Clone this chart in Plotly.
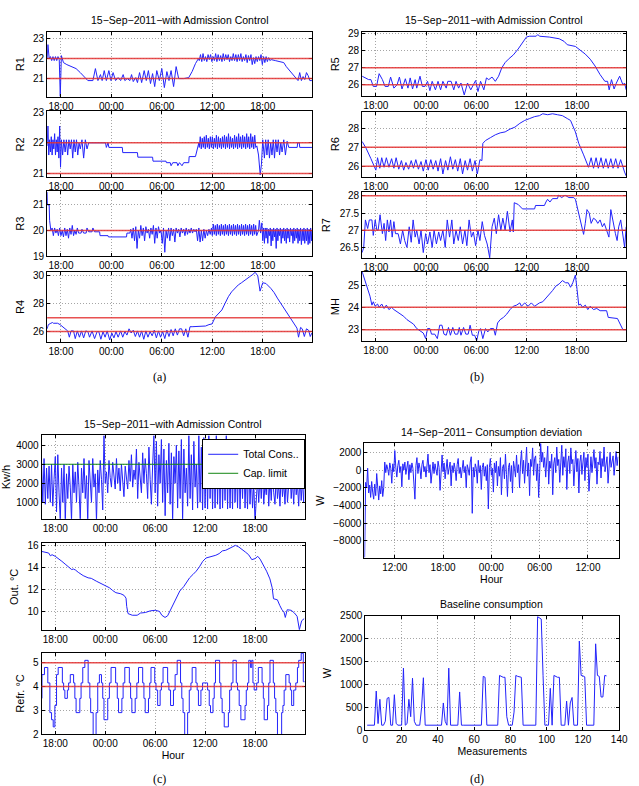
import pandas as pd
import plotly.graph_objects as go

W, H = 639, 786
BASE = pd.Timestamp("2011-09-14")

# ---------------- data: (hour since 14-Sep 00:00, value) ----------------
R1 = [(16.36,22.0),(16.45,22.7),(16.6,22.0),(16.75,22.1),(16.9,21.9),(17.05,22.1),(17.2,21.9),(17.35,22.1),(17.5,21.9),(17.65,22.1),(17.8,21.95),(17.92,20.1),(18.05,22.15),(18.3,21.8),(18.7,21.7),(19.2,21.6),(19.8,21.5),(20.3,21.3),(20.8,21.1),(21.2,20.9),(21.8,20.9),(22.1,21.5),(22.4,20.9),(22.7,21.2),(22.9,20.9),(23.15,21.4),(23.4,20.9),(23.7,21.4),(23.95,20.9),(24.2,21.3),(24.5,20.9),(24.8,21.05),(25.1,20.9),(25.4,21.2),(25.6,20.9),(25.9,21.0),(26.2,20.9),(26.4,21.2),(26.6,20.85),(26.9,21.05),(27.1,20.8),(27.35,21.3),(27.6,20.8),(27.9,21.4),(28.15,20.9),(28.4,21.4),(28.65,20.75),(28.9,21.25),(29.15,20.6),(29.4,21.4),(29.7,20.9),(30.0,21.5),(30.3,20.55),(30.6,21.35),(30.85,20.9),(31.1,21.4),(31.4,20.6),(31.7,21.6),(32.0,21.0),(32.6,21.0),(33.2,21.05),(33.6,21.35),(34.0,21.75),(34.35,22.0),
      (34.45,21.9),(34.6,22.2),(34.75,21.85),(34.9,22.25),(35.05,21.9),(35.2,22.1),(35.35,21.85),(35.5,22.2),(35.65,21.95),(35.8,22.2),(35.95,21.85),(36.1,22.1),(36.25,21.9),(36.4,22.25),(36.55,21.85),(36.7,22.2),(36.85,21.9),(37.0,22.15),(37.15,21.85),(37.3,22.25),(37.45,21.9),(37.6,22.2),(37.75,21.95),(37.9,22.2),(38.05,21.85),(38.2,22.1),(38.35,21.9),(38.5,22.25),(38.65,21.9),(38.8,22.2),(38.95,21.85),(39.1,22.2),(39.25,21.9),(39.4,22.25),(39.55,21.85),(39.7,22.1),(39.85,21.9),(40.0,22.2),(40.15,21.8),(40.3,22.15),(40.45,21.9),(40.6,22.2),(40.75,21.7),(40.9,22.05),(41.05,21.75),(41.2,22.1),(41.35,21.85),(41.5,22.1),(41.65,21.9),(41.8,22.2),(41.95,21.7),
      (42.1,22.1),(42.25,21.8),(42.4,22.1),(42.55,21.85),(42.7,22.05),(42.85,21.9),(43.0,21.95),(43.5,21.9),(44.0,21.85),(44.5,21.8),(44.8,21.6),(45.2,21.4),(45.6,21.2),(46.0,21.0),(46.2,20.9),(46.4,21.3),(46.6,20.9),(46.8,21.1),(47.0,20.95),(47.2,21.3),(47.4,21.15),(47.6,20.9),(47.85,20.9)]

R2 = [(16.36,21.9),(16.45,22.55),(16.55,21.6),(16.65,22.1),(16.75,21.7),(16.85,22.2),(16.95,21.6),(17.05,22.1),(17.15,21.8),(17.25,22.3),(17.35,21.6),(17.45,22.1),(17.55,21.7),(17.65,22.2),(17.75,21.5),(17.85,22.55),(17.95,21.2),(18.05,22.1),(18.2,21.6),(18.35,22.1),(18.5,21.7),(18.65,22.1),(18.8,21.6),(18.95,22.1),(19.1,21.8),(19.25,22.1),(19.4,21.5),(19.55,22.1),(19.7,21.7),(19.85,22.1),(20.0,21.6),(20.15,22.0),(20.3,21.8),(20.5,22.1),(20.7,21.5),(20.9,22.1),(21.1,21.8),(21.3,22.0),(23.3,22.0),(23.4,21.85),(23.6,22.0),(23.7,21.85),(25.3,21.85),(25.35,21.68),(27.1,21.68),(27.15,21.53),(28.9,21.53),(28.95,21.4),(30.5,21.4),(30.55,21.35),(31.0,21.35),(31.1,21.25),(31.3,21.35),(31.8,21.35),(31.9,21.25),(32.1,21.35),(32.4,21.25),(32.6,21.35),(33.2,21.35),(33.25,21.55),(34.0,21.55),(34.4,22.0),
      (34.45,21.85),(34.57,22.2),(34.69,21.8),(34.81,22.15),(34.93,21.85),(35.05,22.2),(35.17,21.8),(35.29,22.25),(35.41,21.85),(35.53,22.15),(35.65,21.8),(35.77,22.2),(35.89,21.85),(36.01,22.2),(36.13,21.8),(36.25,22.15),(36.37,21.85),(36.49,22.25),(36.61,21.8),(36.73,22.2),(36.85,21.85),(36.97,22.15),(37.09,21.8),(37.21,22.2),(37.33,21.85),(37.45,22.25),(37.57,21.8),(37.69,22.2),(37.81,21.85),(37.93,22.3),(38.05,21.8),(38.17,22.2),(38.29,21.85),(38.41,22.15),(38.53,21.8),(38.65,22.25),(38.77,21.85),(38.89,22.2),(39.01,21.8),(39.13,22.3),(39.25,21.85),(39.37,22.2),(39.49,21.8),(39.61,22.25),(39.73,21.85),(39.85,22.2),(39.97,21.8),(40.09,22.3),(40.21,21.85),(40.33,22.2),(40.45,21.8),(40.57,22.3),(40.69,21.85),(40.81,22.2),(40.93,21.8),(41.05,22.25),(41.17,21.85),
      (41.3,21.9),(41.5,21.6),(41.7,20.95),(41.85,21.3),(42.0,22.1),(42.2,21.5),(42.35,22.1),(42.5,21.6),(42.65,22.1),(42.8,21.5),(42.95,22.0),(43.1,21.6),(43.25,22.1),(43.4,21.5),(43.55,22.1),(43.7,21.7),(43.85,22.1),(44.0,21.6),(44.15,22.0),(44.3,21.7),(44.5,22.1),(44.7,21.6),(44.9,22.05),(45.1,21.85),(46.1,21.85),(46.15,22.0),(46.35,22.0),(46.4,21.85),(47.85,21.85)]

R3 = [(16.36,21.5),(16.4,21.0),(16.6,21.0),(16.65,20.4),(16.8,20.0),(16.95,20.1),(17.1,19.8),(17.25,20.1),(17.4,19.9),(17.55,20.05),(17.7,19.8),(17.85,20.1),(18.0,19.8),(18.15,20.0),(18.3,19.75),(18.45,20.1),(18.6,19.8),(18.75,20.05),(18.9,19.7),(19.05,20.1),(19.2,19.85),(19.35,20.2),(19.5,19.8),(19.65,20.0),(19.8,19.85),(19.95,20.1),(20.1,19.9),(20.4,19.9),(20.5,20.05),(20.7,19.9),(21.0,19.9),(21.1,20.1),(21.3,19.95),(21.7,19.95),(21.8,20.1),(22.0,19.95),(22.6,19.95),(22.65,19.8),(23.6,19.8),(23.65,19.75),(25.8,19.75),(25.85,19.9),(26.2,19.9),(26.3,20.05),(26.45,19.7),(26.6,20.1),(26.75,19.6),(26.9,20.15),(27.05,19.3),(27.2,20.0),(27.35,19.7),(27.5,20.2),(27.65,19.8),(27.8,20.1),(27.95,19.6),(28.1,20.15),(28.25,19.9),(28.4,20.05),(28.55,19.7),(28.7,20.1),(28.85,19.85),(29.0,20.2),(29.15,19.5),(29.3,20.1),(29.45,19.7),(29.6,20.15),(29.75,19.9),(29.9,20.0),(30.05,19.5),(30.2,20.1),(30.35,19.15),(30.5,20.0),(30.65,19.7),(30.8,20.1),(30.95,19.6),(31.1,20.1),(31.25,19.8),(31.4,20.05),(31.55,19.55),(31.7,20.1),(31.85,19.9),(32.0,20.05),(32.15,19.75),(32.3,20.1),(32.45,19.9),(32.6,20.05),(32.75,19.8),(32.9,20.1),(33.05,19.85),(33.2,20.05),(33.35,19.9),(33.5,20.1),(33.65,19.9),(33.8,20.05),(33.95,19.95),(34.1,20.05),(34.25,19.6),(34.4,20.1),(34.55,19.55),(34.7,20.0),(34.85,19.6),(35.0,20.05),(35.15,19.7),(35.3,20.0),(35.45,19.8),(35.6,20.05),(35.75,19.85),(35.9,20.1),
      (36.0,19.8),(36.12,20.25),(36.24,19.85),(36.36,20.2),(36.48,19.8),(36.6,20.25),(36.72,19.85),(36.84,20.2),(36.96,19.8),(37.08,20.25),(37.2,19.85),(37.32,20.2),(37.44,19.8),(37.56,20.25),(37.68,19.85),(37.8,20.2),(37.92,19.8),(38.04,20.25),(38.16,19.85),(38.28,20.2),(38.4,19.8),(38.52,20.25),(38.64,19.85),(38.76,20.2),(38.88,19.8),(39.0,20.25),(39.12,19.85),(39.24,20.2),(39.36,19.8),(39.48,20.25),(39.6,19.85),(39.72,20.2),(39.84,19.8),(39.96,20.25),(40.08,19.85),(40.2,20.2),(40.32,19.8),(40.44,20.25),(40.56,19.85),(40.68,20.2),(40.8,19.8),(40.92,20.25),(41.04,19.85),(41.16,20.2),(41.28,19.8),
      (41.5,20.0),(41.6,20.4),(41.75,19.9),(41.9,20.3),(42.0,19.6),(42.1,20.1),(42.2,19.5),(42.3,20.1),(42.4,19.7),(42.5,20.1),(42.6,19.5),(42.7,20.05),(42.8,19.8),(42.9,20.1),(43.0,19.4),(43.1,20.05),(43.2,19.6),(43.3,20.1),(43.4,19.75),(43.5,20.05),(43.6,19.3),(43.7,20.1),(43.8,19.6),(43.9,20.05),(44.0,19.8),(44.1,20.1),(44.2,19.5),(44.3,20.05),(44.4,19.7),(44.5,20.1),(44.6,19.6),(44.7,20.05),(44.8,19.5),(44.9,20.1),(45.0,19.7),(45.1,20.05),(45.2,19.55),(45.3,20.1),(45.4,19.8),(45.5,20.05),(45.6,19.5),(45.7,20.1),(45.8,19.6),(45.9,20.05),(46.0,19.7),(46.1,20.1),(46.2,19.5),(46.3,20.05),(46.4,19.6),(46.5,20.1),(46.6,19.45),(46.7,20.05),(46.8,19.6),(46.9,20.1),(47.0,19.5),(47.1,20.05),(47.2,19.6),(47.3,20.1),(47.4,19.45),(47.5,20.05),(47.6,19.5),(47.7,20.1),(47.8,19.6),(47.85,20.0)]

R4 = [(16.36,26.2),(16.5,26.5),(16.8,26.6),(17.0,26.65),(17.1,26.6),(17.6,26.6),(17.9,26.5),(18.3,26.3),(18.6,26.2),(18.8,26.05),(19.0,25.6),(19.2,26.05),(19.5,26.05),(19.7,25.5),(19.95,26.05),(20.2,25.6),(20.45,26.05),(20.7,25.55),(20.95,26.05),(21.2,26.0),(21.4,25.6),(21.7,26.05),(22.0,25.5),(22.3,26.0),(22.5,26.0),(22.75,25.45),(23.0,26.0),(23.25,25.6),(23.5,26.05),(23.8,25.4),(24.05,25.9),(24.3,25.55),(24.55,26.0),(24.8,25.6),(25.1,26.05),(25.35,25.6),(25.6,26.0),(25.85,25.75),(26.1,26.2),(26.35,25.9),(26.6,26.1),(26.85,25.65),(27.1,26.05),(27.35,25.6),(27.6,26.05),(27.85,25.45),(28.1,26.05),(28.35,25.6),(28.6,26.0),(28.85,25.7),(29.1,26.1),(29.35,25.55),(29.6,26.05),(29.85,25.6),(30.1,26.0),(30.35,25.5),(30.6,26.1),(30.85,25.65),(31.1,26.15),(31.35,25.7),(31.6,26.2),(31.85,25.75),(32.1,26.2),(32.35,26.2),(32.6,25.7),(32.85,26.2),(33.1,25.6),(33.35,26.35),(33.6,26.35),(34.4,26.4),(35.2,26.4),(35.6,26.5),(35.97,26.55),(36.36,27.05),(36.75,27.3),(37.14,27.55),(37.5,28.0),(37.91,28.5),(38.3,28.85),(38.69,29.1),(39.1,29.35),(39.47,29.5),(39.85,29.65),(40.24,29.8),(40.6,30.0),(40.83,30.1),(41.1,30.25),(41.41,30.0),(41.68,28.9),(42.0,29.5),(42.38,29.45),(42.96,29.1),(43.35,28.8),(43.74,28.4),(44.13,28.05),(44.52,27.7),(44.9,27.35),(45.29,27.0),(45.68,26.6),(46.07,26.25),(46.26,25.6),(46.5,26.3),(46.7,26.2),(46.95,25.65),(47.2,26.2),(47.45,26.1),(47.65,25.65),(47.85,25.9)]

R5 = [(16.36,26.5),(16.83,26.4),(17.14,26.3),(17.41,26.3),(17.69,25.9),(18.08,25.9),(18.39,26.65),(18.78,26.3),(19.1,25.9),(19.48,25.9),(19.76,26.45),(20.15,25.8),(20.54,26.0),(20.81,26.45),(21.12,25.75),(21.52,26.35),(21.83,25.8),(22.1,26.4),(22.38,25.75),(22.69,26.3),(22.88,25.8),(23.27,26.5),(23.55,25.9),(23.86,25.9),(24.17,26.2),(24.45,25.65),(24.72,26.2),(25.11,25.7),(25.42,26.2),(25.73,25.7),(26.0,26.2),(26.4,25.8),(26.59,26.2),(26.98,26.2),(27.3,25.7),(27.57,26.2),(27.88,25.8),(28.16,26.1),(28.55,25.4),(28.94,26.1),(29.33,25.7),(29.64,26.0),(29.91,26.25),(30.19,25.6),(30.5,26.2),(30.89,25.7),(31.2,26.4),(31.48,26.3),(31.87,26.45),(32.26,26.2),(32.65,26.5),(33.04,27.0),(33.43,27.3),(33.82,27.5),(34.41,27.75),(34.99,28.1),(35.38,28.4),(35.97,28.8),(36.36,28.85),(37.14,28.85),(37.34,28.95),(37.53,28.85),(38.7,28.8),(39.88,28.7),(40.46,28.55),(40.85,28.35),(41.82,28.25),(42.22,28.1),(43.0,27.8),(43.59,27.5),(44.17,27.1),(44.76,26.6),(45.34,26.2),(45.66,26.2),(45.85,25.7),(46.13,26.3),(46.44,25.75),(46.71,26.1),(47.1,26.5),(47.49,26.0),(47.69,26.1),(47.88,25.7)]

R6 = [(16.36,27.3),(16.83,26.95),(17.41,26.4),(17.8,26.0),(18.0,25.8),(18.2,26.45),(18.47,25.9),(18.7,26.45),(18.98,25.95),(19.25,26.45),(19.56,25.95),(19.88,26.4),(20.15,25.9),(20.42,26.45),(20.73,25.85),(21.05,26.3),(21.32,25.8),(21.59,26.2),(21.91,25.85),(22.22,26.3),(22.49,25.9),(22.77,26.35),(23.08,25.85),(23.39,26.25),(23.66,25.75),(23.98,26.35),(24.25,25.8),(24.56,26.35),(24.84,25.85),(25.15,26.3),(25.42,25.75),(25.73,26.4),(26.0,25.6),(26.32,26.3),(26.59,25.8),(26.9,26.5),(27.18,25.85),(27.49,26.35),(27.77,25.75),(28.08,26.4),(28.35,25.6),(28.66,26.3),(28.94,25.8),(29.25,26.4),(29.52,25.75),(29.84,26.3),(30.11,25.6),(30.42,26.35),(30.66,26.3),(30.77,27.2),(31.09,27.35),(31.67,27.5),(32.26,27.65),(32.84,27.75),(33.43,27.8),(34.02,27.95),(34.6,28.05),(35.19,28.25),(35.77,28.4),(36.36,28.5),(36.95,28.6),(37.53,28.65),(37.92,28.75),(38.51,28.7),(39.09,28.75),(39.68,28.7),(40.27,28.65),(40.85,28.5),(41.24,28.4),(41.82,27.8),(42.22,27.2),(42.8,26.6),(43.39,25.95),(43.7,26.45),(43.98,25.9),(44.29,26.45),(44.56,25.9),(44.88,26.45),(45.15,25.9),(45.46,26.4),(45.74,25.9),(46.05,26.4),(46.32,25.9),(46.63,26.4),(46.91,25.9),(47.22,26.35),(47.49,25.9),(47.69,25.7),(47.88,25.5)]

R7 = [(16.36,26.35),(16.55,26.5),(16.75,27.3),(17.02,27.05),(17.22,27.3),(17.53,27.3),(17.69,26.85),(17.92,27.3),(18.12,27.0),(18.27,27.0),(18.5,27.45),(18.78,26.9),(18.98,27.2),(19.17,26.7),(19.37,27.3),(19.56,26.95),(19.76,27.3),(19.95,26.8),(20.15,27.25),(20.34,26.9),(20.66,26.9),(20.93,26.6),(21.2,27.0),(21.44,26.7),(21.71,26.5),(21.98,27.1),(22.22,26.65),(22.45,27.3),(22.69,26.8),(22.88,27.0),(23.16,26.6),(23.39,27.0),(23.66,26.35),(23.94,26.9),(24.17,26.6),(24.45,26.95),(24.72,26.5),(24.95,27.0),(25.23,26.6),(25.5,26.95),(25.73,26.7),(26.0,27.0),(26.28,26.5),(26.52,27.3),(26.8,26.8),(27.07,27.3),(27.3,26.6),(27.57,27.0),(27.84,26.7),(28.08,27.1),(28.35,26.6),(28.63,27.0),(28.86,26.55),(29.13,27.3),(29.41,26.8),(29.64,26.95),(29.91,26.55),(30.19,27.0),(30.42,26.7),(30.7,27.25),(30.97,26.85),(31.29,26.6),(31.59,26.2),(31.87,27.1),(32.14,27.35),(32.38,26.9),(32.65,27.45),(32.92,27.0),(33.16,27.35),(33.43,27.0),(33.7,27.55),(34.02,26.95),(34.29,27.3),(34.41,26.95),(34.52,27.8),(34.99,27.75),(35.5,27.62),(36.95,27.62),(37.06,27.72),(38.12,27.72),(38.3,27.82),(38.5,27.9),(38.78,27.82),(39.09,27.92),(39.68,27.92),(39.8,28.02),(40.19,27.95),(40.58,28.02),(41.05,27.95),(41.63,27.95),(41.82,27.9),(42.22,27.5),(42.61,27.1),(42.8,26.88),(43.0,27.2),(43.2,27.6),(43.47,27.5),(43.7,27.2),(43.98,27.35),(44.26,27.3),(44.49,27.2),(44.77,27.3),(45.04,27.1),(45.27,27.2),(45.55,27.0),(45.82,26.8),(46.05,27.6),(46.33,27.2),(46.6,26.9),(46.8,26.7),(46.99,27.1),(47.23,27.3),(47.5,26.85),(47.7,26.5),(47.88,27.1)]

MH = [(16.36,25.6),(16.63,25.3),(17.02,24.9),(17.3,24.5),(17.53,24.1),(17.69,24.25),(17.92,24.05),(18.2,24.15),(18.39,24.0),(18.7,24.15),(18.98,23.95),(19.25,24.1),(19.56,23.9),(19.88,24.0),(20.15,23.9),(20.54,23.8),(20.93,23.7),(21.32,23.6),(21.71,23.45),(22.1,23.35),(22.49,23.25),(22.88,23.05),(23.27,22.95),(23.66,22.85),(23.94,22.6),(24.17,23.05),(24.45,23.05),(24.64,22.8),(25.03,22.8),(25.34,22.6),(25.62,23.2),(25.89,23.2),(26.13,22.8),(26.4,22.75),(26.67,23.1),(26.9,22.75),(27.18,23.1),(27.45,22.8),(27.77,22.8),(27.96,23.1),(28.16,22.75),(28.47,23.1),(28.74,22.8),(29.02,22.8),(29.25,23.2),(29.52,22.75),(29.8,22.75),(30.03,22.5),(30.3,22.95),(30.5,23.05),(30.77,22.6),(31.09,23.05),(31.36,22.9),(31.67,23.05),(32.06,23.05),(32.26,22.75),(32.53,23.3),(32.84,23.45),(33.23,23.55),(33.63,23.7),(34.02,23.9),(34.41,24.05),(34.8,24.1),(35.19,24.2),(35.38,24.05),(35.77,24.2),(36.17,24.05),(36.56,24.2),(36.95,24.05),(37.53,24.2),(37.92,24.25),(38.3,24.4),(38.7,24.55),(39.09,24.75),(39.48,24.95),(39.88,25.05),(40.27,25.2),(40.66,25.1),(40.97,25.1),(41.24,24.9),(41.51,25.1),(41.82,25.45),(42.02,24.8),(42.22,24.1),(42.41,24.15),(42.69,24.0),(43.0,24.1),(43.3,23.9),(43.59,24.05),(43.98,23.9),(44.37,23.95),(44.77,23.85),(45.55,23.85),(45.74,23.55),(46.84,23.5),(47.1,23.3),(47.49,23.0),(47.88,23.0)]

# comfort limits (red lines)
LIMITS = {"R1": [21, 22], "R2": [21, 22], "R3": [20], "R4": [26, 27],
          "R5": [26, 27], "R6": [26, 27], "R7": [27, 28], "MH": [23, 24], "Refr": [4, 5]}

# (c) total consumption, sampled every 0.15 h from 16.35 h
TOTAL_START, TOTAL_STEP = 16.35, 0.15
TOTAL_CONS = [3000,1000,3300,900,2800,1200,2900,1000,3000,800,2200,
              3400,500,3500,1500,0,2800,1000,3000,0,2500,1200,2900,1800,0,3000,1500,2600,1000,3100,1800,
              0,2800,1500,3300,1200,2400,0,3200,2000,1000,3300,1800,2500,0,2700,1500,3200,2200,600,4500,
              2000,2600,1500,3200,2300,1800,3100,2500,1700,3300,2000,2800,1600,3000,2200,1300,2900,2400,1700,3200,
              2100,3500,1800,2700,2200,3800,1200,3100,2400,1500,3600,2000,3300,2500,1200,3900,2200,900,3000,4500,
              1500,4200,800,3500,2000,4300,1000,3800,300,3200,1500,4100,900,3600,0,3400,2000,4000,700,3700,
              1200,4300,0,3800,1500,2800,800,4500,1200,3500,600,4200,1800,3000,700,4500,1000,3900,600,4400,
              700,3800,650,4500,1200,3600,650,4200,700,4500,900,3900,650,4300,700,3700,1100,4500,650,4000,
              700,3500,650,4100,1000,3300,700,3800,650,3000,1200,3600,700,2800,650,3400,900,2600,700,2000,
              0,1500,2200,1000,2500,1200,2700,900,2000,1400,2600,800,2300,1100,2700,1500,900,2400,1200,2000,
              800,2600,1300,2100,900,2500,1000,1900,2700,1200,2200,900,2600,1400,2000,800,2500,1100,2200,1000,2500]
CAP_LIMIT = 3000

OUT_TEMP = [(16.35,15.5),(16.82,15.45),(17.21,15.35),(17.41,15.1),(17.61,15.2),(18.0,15.05),(18.39,14.85),(18.79,14.6),(19.18,14.35),(19.57,14.1),(19.97,13.85),(20.17,13.9),(20.44,13.8),(20.76,13.6),(21.35,13.3),(21.94,13.1),(22.33,13.05),(22.92,12.8),(23.51,12.6),(24.1,12.35),(24.5,12.2),(24.89,11.95),(25.28,11.75),(25.87,11.65),(26.27,11.5),(26.5,11.25),(26.58,10.5),(26.74,9.85),(27.25,9.7),(27.84,9.7),(28.24,9.9),(28.83,9.95),(29.42,10.1),(30.01,10.15),(30.52,10.05),(30.8,9.7),(31.19,9.5),(31.5,9.65),(31.86,10.2),(32.17,10.7),(32.57,11.3),(32.96,11.9),(33.43,12.3),(33.83,12.8),(34.14,13.1),(34.54,13.4),(34.93,13.7),(35.32,14.1),(35.72,14.6),(36.11,14.9),(36.7,15.0),(37.29,15.15),(37.69,15.3),(38.08,15.55),(38.47,15.6),(38.87,15.75),(39.26,15.95),(39.65,16.05),(40.05,15.9),(40.44,15.7),(40.83,15.45),(41.23,15.2),(41.62,14.75),(42.02,14.85),(42.33,15.05),(42.61,14.8),(43.0,14.3),(43.39,13.7),(43.79,13.0),(44.06,12.2),(44.22,11.2),(44.69,11.1),(44.97,10.6),(45.24,10.2),(45.48,10.0),(45.64,9.5),(45.87,10.2),(46.35,10.15),(46.74,9.9),(47.06,9.6),(47.33,8.4),(47.61,9.2),(47.92,9.4)]

REFR = [(16.35,3.5),(16.4,4.5),(16.7,4.8),(17.1,4.15),(17.35,2.9),(17.55,2.6),(17.75,2.3),(17.95,3.2),(18.15,4.5),(18.35,4.8),(18.85,4.15),(19.0,3.85),(19.15,3.5),(19.45,3.85),(19.6,4.15),(19.8,4.5),(20.2,4.15),(20.35,3.5),(20.5,2.9),(20.95,3.5),(21.1,4.15),(21.3,4.8),(21.55,5.1),(21.95,4.15),(22.15,3.5),(22.25,2.9),(22.55,1.8),(22.9,2.9),(23.1,4.15),(23.3,4.5),(23.55,4.15),(23.7,3.5),(23.85,2.6),(24.3,3.5),(24.5,4.15),(24.7,4.8),(25.25,4.15),(25.45,3.5),(25.6,2.9),(26.0,3.5),(26.15,4.15),(26.35,4.8),(26.9,4.15),(27.05,3.5),(27.2,2.9),(27.6,3.5),(27.8,4.15),(28.0,4.8),(28.5,4.15),(28.65,3.5),(28.8,2.9),(29.2,3.5),(29.35,4.15),(29.5,4.8),(29.95,4.15),(30.1,3.85),(30.3,3.2),(30.6,3.85),(30.75,4.15),(30.95,4.8),(31.5,4.15),(31.65,3.85),(31.85,3.2),(32.2,3.85),(32.4,4.5),(32.65,5.1),(33.05,4.15),(33.2,3.5),(33.35,2.9),(33.55,1.8),(33.9,2.9),(34.1,3.85),(34.3,4.15),(34.45,4.8),(34.9,4.15),(35.05,3.85),(35.2,3.2),(35.5,3.85),(35.7,4.15),(36.3,3.85),(36.5,3.2),(36.65,2.9),(36.95,3.5),(37.1,4.15),(37.25,5.1),(37.75,4.15),(37.9,3.5),(38.05,2.9),(38.3,2.3),(38.8,2.9),(38.95,3.85),(39.15,4.15),(39.35,5.1),(39.75,4.15),(39.9,3.85),(40.1,3.2),(40.3,2.6),(40.8,3.2),(40.95,3.85),(41.1,4.15),(41.25,5.1),(41.45,4.8),(41.6,5.1),(41.75,4.15),(41.9,3.85),(42.2,4.15),(42.4,4.8),(42.85,4.15),(43.0,3.5),(43.1,2.6),(43.5,3.2),(43.65,4.15),(43.8,5.1),(44.2,4.15),(44.35,3.5),(44.5,2.9),(44.7,1.8),(45.2,2.9),(45.35,3.2),(45.5,3.85),(45.7,4.5),(46.1,4.15),(46.25,3.85),(46.4,3.2),(46.65,3.85),(46.9,4.15),(47.1,4.8),(47.25,5.1),(47.55,5.4),(47.8,4.2),(48.0,4.2)]

# (d) consumption deviation (W), every 0.125 h from 08:15 on 14-Sep
DEV_START, DEV_STEP = 8.25, 0.125
DEVIATION = [-9900,-1400,-2000,200,-2600,-1700,-3100,-1300,-2500,-3300,-1600,-2900,-400,-2200,-3400,-1800,-2700,-1200,-3000,-2000,900,-300,600,100,
             -600,800,200,-1500,700,-200,2200,300,-800,500,1100,-300,400,-1900,700,0,900,-500,300,1000,-1100,600,-300,800,
             200,-1200,-3300,500,1400,-400,800,200,-1000,600,1100,-200,400,-800,900,1800,-300,600,-1500,300,900,-400,700,0,
             -600,1000,300,-2300,500,1700,-200,800,-1000,400,1200,-500,200,900,-1800,500,-300,800,100,-1200,600,1300,-400,300,
             -900,500,1100,-300,400,-2000,600,100,-600,900,1500,-4900,300,-800,700,200,-1500,1100,-300,500,-2200,300,800,-700,
             400,-1200,600,-4400,300,1300,-600,200,-2500,800,-300,1000,-1800,400,-700,1400,-2800,200,600,-1000,1800,-500,-3000,300,
             800,-1300,500,-2600,1000,200,-800,1700,-300,600,-2000,900,2200,-400,1100,-1500,300,2600,-700,800,-2900,1200,400,2500,
             -600,1300,1600,-1200,700,-3100,-300,3000,900,2000,300,1400,-800,600,2700,-1600,1000,200,1800,-2800,700,1400,-300,2600,
             500,1200,-1400,800,2800,-600,1500,300,2400,-2200,900,1600,-400,2500,700,1200,-1800,600,2200,-200,1300,-2600,900,1700,
             -500,800,2000,-1200,1400,300,1800,-2400,700,1500,-300,1100,2300,200,1400,-1600,900,600,2100,-900,1300,400,2600,-200,
             800,1500,-1500,1100,2000,300,900,1600,-600,1200,2100,500,1500]

BASELINE = [115,115,115,115,115,860,150,680,115,115,200,700,720,115,115,780,150,115,115,115,
            1360,115,150,680,300,1140,200,115,115,115,500,1150,115,115,115,115,115,115,115,115,
            115,115,600,200,115,1360,115,115,115,115,115,840,115,115,115,115,115,115,115,115,
            115,115,115,115,1180,1160,115,115,115,115,115,115,115,1200,1180,1160,1160,300,115,115,
            115,400,1200,1180,1170,1160,115,115,115,115,115,115,115,115,2480,2450,2430,1200,115,115,
            115,920,115,1200,1170,1160,1160,115,115,115,640,115,600,720,115,115,115,1950,1200,1190,
            1170,115,115,115,115,115,1890,1200,1180,730,730,1200,1190]

Y_TICKS = {"R1": [21, 22, 23], "R2": [21, 22, 23], "R3": [19, 20, 21], "R4": [26, 28, 30],
           "R5": [26, 27, 28, 29], "R6": [26, 27, 28], "R7": [26.5, 27, 27.5, 28], "MH": [23, 24, 25],
           "Kw/h": [1000, 2000, 3000, 4000], "Out. °C": [10, 12, 14, 16], "Refr. °C": [2, 3, 4, 5],
           "W1": [-8000, -6000, -4000, -2000, 0, 2000], "W2": [0, 500, 1000, 1500, 2000, 2500]}
BASE_XTICKS = [0, 20, 40, 60, 80, 100, 120, 140]

# ---------------- helpers ----------------
def dt(hours):
    return [(BASE + pd.Timedelta(hours=float(h))).strftime("%Y-%m-%d %H:%M:%S") for h in hours]

def unzip(pairs):
    return dt([p[0] for p in pairs]), [p[1] for p in pairs]

BLUE = "rgb(35,35,250)"
RED = "rgba(228,50,50,0.85)"
GREEN = "rgb(20,135,20)"
FONT = "Liberation Sans, Arial, Helvetica, sans-serif"

AB = dt([16.36, 47.87])
CR = dt([16.35, 47.95])
DR = dt([8.22, 39.8])

total_t = [TOTAL_START + i * TOTAL_STEP for i in range(len(TOTAL_CONS))]
dev_t = [DEV_START + i * DEV_STEP for i in range(len(DEVIATION))]

specs = [
    dict(data=unzip(R1), xd=(45, 315), yd=(26, 92), yr=[20.1, 23.35], yt=Y_TICKS["R1"], yl="R1", xr=AB, lim="R1"),
    dict(data=unzip(R2), xd=(45, 315), yd=(107, 174), yr=[20.87, 23.03], yt=Y_TICKS["R2"], yl="R2", xr=AB, lim="R2"),
    dict(data=unzip(R3), xd=(45, 315), yd=(188, 254), yr=[19, 21.54], yt=Y_TICKS["R3"], yl="R3", xr=AB, lim="R3"),
    dict(data=unzip(R4), xd=(45, 315), yd=(270, 341), yr=[25.27, 30.28], yt=Y_TICKS["R4"], yl="R4", xr=AB, lim="R4"),
    dict(data=unzip(R5), xd=(366, 635), yd=(26.7, 91.7), yr=[25.32, 29.08], yt=Y_TICKS["R5"], yl="R5", xr=AB, lim="R5"),
    dict(data=unzip(R6), xd=(366, 635), yd=(107.3, 173.3), yr=[25.46, 28.86], yt=Y_TICKS["R6"], yl="R6", xr=AB, lim="R6"),
    dict(data=unzip(R7), xd=(366, 635), yd=(189.3, 256), yr=[26.19, 28.1], yt=Y_TICKS["R7"], yl="R7", xr=AB, lim="R7"),
    dict(data=unzip(MH), xd=(366, 635), yd=(270, 340.7), yr=[22.47, 25.59], yt=Y_TICKS["MH"], yl="MH", xr=AB, lim="MH"),
    dict(data=(dt(total_t), TOTAL_CONS), xd=(39.3, 307.3), yd=(436, 520.7), yr=[140, 4517], yt=Y_TICKS["Kw/h"], yl="Kw/h", xr=CR, lim=None, ys=3),
    dict(data=unzip(OUT_TEMP), xd=(39.3, 307.3), yd=(545.7, 634), yr=[8.33, 16.23], yt=Y_TICKS["Out. °C"], yl="Out. °C", xr=CR, lim=None),
    dict(data=unzip(REFR), xd=(39.3, 307.3), yd=(657, 739.3), yr=[2, 5.41], yt=Y_TICKS["Refr. °C"], yl="Refr. °C", xr=CR, lim="Refr", shape="hv", xl="Hour"),
    dict(data=(dt(dev_t), DEVIATION), xd=(368.3, 627.3), yd=(444, 560.3), yr=[-9926, 3030], yt=Y_TICKS["W1"], yl="W", xr=DR, lim=None, xl="Hour"),
    dict(data=(list(range(1, len(BASELINE) + 1)), BASELINE), xd=(369.3, 628), yd=(619.3, 735.7), yr=[0, 2500], yt=Y_TICKS["W2"], yl="W", xr=[0, 140], lim=None, xl="Measurements", num=True),
]

fig = go.Figure()
layout = dict(width=W, height=H, margin=dict(l=0, r=0, t=0, b=0),
              paper_bgcolor="white", plot_bgcolor="white",
              font=dict(family=FONT, size=10, color="black"),
              showlegend=True,
              legend=dict(x=203 / W, y=1 - 439.5 / H, xanchor="left", yanchor="top",
                          bgcolor="white", bordercolor="black", borderwidth=1,
                          font=dict(size=10.5), tracegroupgap=0, itemwidth=30))
shapes = []

common = dict(showline=True, linecolor="black", linewidth=1, mirror="ticks",
              ticks="inside", ticklen=3, tickcolor="black",
              showgrid=True, gridcolor="rgb(165,165,165)", griddash="1px,2px", gridwidth=1,
              zeroline=False, tickfont=dict(size=10, family=FONT))

for i, s in enumerate(specs, start=1):
    xk = "xaxis" if i == 1 else f"xaxis{i}"
    yk = "yaxis" if i == 1 else f"yaxis{i}"
    xr_ = "x" if i == 1 else f"x{i}"
    yr_ = "y" if i == 1 else f"y{i}"
    xa = dict(common, domain=[s["xd"][0] / W, s["xd"][1] / W], anchor=yr_, range=s["xr"])
    if s.get("num"):
        xa.update(tickvals=BASE_XTICKS)
    else:
        xa.update(type="date", tick0="2011-09-14 00:00:00", dtick=6 * 3600 * 1000, tickformat="%H:%M")
    if s.get("xl"):
        xa["title"] = dict(text=s["xl"], font=dict(size=10.5, family=FONT), standoff=2)
    ya = dict(common, domain=[1 - s["yd"][1] / H, 1 - s["yd"][0] / H], anchor=xr_, range=s["yr"],
              tickvals=s["yt"], title=dict(text=s["yl"], font=dict(size=11, family=FONT), standoff=s.get("ys", 6)))
    layout[xk] = xa
    layout[yk] = ya

    x, y = s["data"]
    tr = dict(x=x, y=y, mode="lines", xaxis=xr_, yaxis=yr_, showlegend=False,
              line=dict(color=BLUE, width=1, shape=s.get("shape", "linear")))
    if i == 9:
        tr.update(name="Total Cons..", showlegend=True)
    fig.add_trace(go.Scatter(**tr))
    if i == 9:
        fig.add_trace(go.Scatter(x=[x[0], x[-1]], y=[CAP_LIMIT, CAP_LIMIT], mode="lines",
                                 xaxis=xr_, yaxis=yr_, name="Cap. limit",
                                 line=dict(color=GREEN, width=1)))
    if s["lim"]:
        for v in LIMITS[s["lim"]]:
            shapes.append(dict(type="line", xref=f"{xr_} domain", x0=0, x1=1, yref=yr_, y0=v, y1=v,
                               line=dict(color=RED, width=1.5)))

layout["shapes"] = shapes

TITLE_A = "15\u2212Sep\u22122011\u2212with Admission Control"
ann = [
    (180, 14, TITLE_A, 10.5, FONT),
    (500, 14, TITLE_A, 10.5, FONT),
    (173, 424, TITLE_A, 10.5, FONT),
    (498, 433, "14\u2212Sep\u22122011\u2212 Consumption deviation", 10.5, FONT),
    (498, 607, "Baseline consumption", 10.5, FONT),
    (160, 377, "(a)", 12, "Liberation Serif, DejaVu Serif, serif"),
    (483, 377, "(b)", 12, "Liberation Serif, DejaVu Serif, serif"),
    (160, 785, "(c)", 12, "Liberation Serif, DejaVu Serif, serif"),
    (483, 785, "(d)", 12, "Liberation Serif, DejaVu Serif, serif"),
]
layout["annotations"] = [dict(x=a / W, y=1 - b / H, xref="paper", yref="paper", text=t, showarrow=False,
                              xanchor="center", yanchor="middle", font=dict(size=fs, family=ff, color="black"))
                         for a, b, t, fs, ff in ann]

fig.update_layout(**layout)
fig.write_html("out.html")
